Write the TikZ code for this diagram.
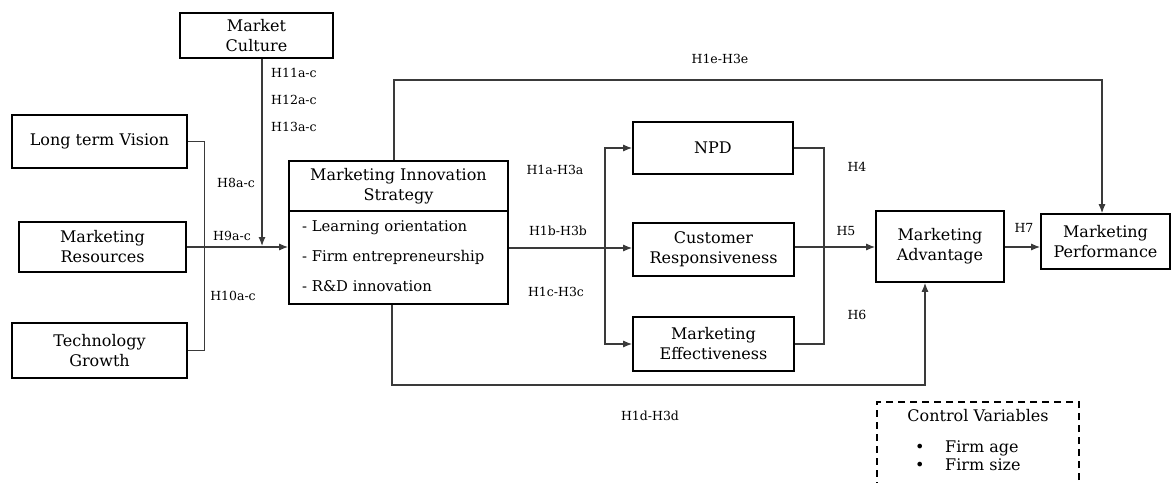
\documentclass[tikz,border=0pt]{standalone}
\usepackage{fontspec}
\setmainfont{DejaVu Serif}
\usetikzlibrary{arrows.meta}
\definecolor{linkgray}{HTML}{3A3A3A}

\begin{document}
\begin{tikzpicture}[x=1pt,y=-1pt,
  every node/.style={inner sep=0pt},
  box/.style={draw,line width=1.6pt,align=center,font=\fontsize{16}{20}\selectfont},
  hyp/.style={font=\fontsize{12.5}{14}\selectfont},
  link/.style={draw=linkgray,line width=1.2pt},
  arr/.style={link,-{Latex[length=9pt,width=7pt]}},
  cvbox/.style={draw,line width=1.8pt,dash pattern=on 7pt off 5pt}]
	\useasboundingbox (0,0) rectangle (1172,482);
	% antecedents
	\node[box,minimum width=153pt,minimum height=45pt] (mc) at (256.5,35.5) {Market\\Culture};
	\node[box,minimum width=175pt,minimum height=53pt] (ltv) at (99.5,141.5) {Long term Vision};
	\node[box,minimum width=167pt,minimum height=50pt] (mr) at (102.5,247) {Marketing\\Resources};
	\node[box,minimum width=175pt,minimum height=55pt] (tg) at (99.5,350.5) {Technology\\Growth};
	% strategy
	\node[box,minimum width=219pt,minimum height=143pt] (mis) at (398.5,232.5) {};
	\coordinate (div) at (0,211);
	\draw[line width=1.6pt] (mis.west |- div) -- (mis.east |- div);
	\node[font=\fontsize{16}{20}\selectfont,align=center] (mistitle) at (398.5,186) {Marketing Innovation\\Strategy};
	\node[font=\fontsize{14.8}{30}\selectfont,align=left,anchor=west] (misitems) at (302,256) {- Learning orientation\\- Firm entrepreneurship\\- R\&D innovation};
	% mediators and outcomes
	\node[box,minimum width=160pt,minimum height=52pt] (npd) at (713,148) {NPD};
	\node[box,minimum width=161pt,minimum height=53pt] (cr) at (713.5,249.5) {Customer\\Responsiveness};
	\node[box,minimum width=161pt,minimum height=54pt] (me) at (713.5,344) {Marketing\\Effectiveness};
	\node[box,minimum width=128pt,minimum height=71pt] (ma) at (940,246.5) {Marketing\\Advantage};
	\node[box,minimum width=129pt,minimum height=55pt] (mp) at (1105.5,241.5) {Marketing\\Performance};
	% control variables
	\node[cvbox,minimum width=202pt,minimum height=92pt] (cv) at (978,448) {};
	\node[font=\fontsize{16}{18}\selectfont] (cvtitle) at (978,416) {Control Variables};
	\node[font=\fontsize{16}{18}\selectfont,align=left,anchor=west] (cvlist) at (915,456) {\makebox[30pt][l]{\textbullet}Firm age\\\makebox[30pt][l]{\textbullet}Firm size};
	% connectors
	\coordinate (join) at (262,246);
	\coordinate (top) at (0,80);
	\coordinate (bot) at (0,385);
	\coordinate (split) at (605,248);
	\coordinate (merge) at (824,247);
	\draw[link] (ltv.east) -- ++(17,0) coordinate (lv) -- (lv |- tg.east) -- (tg.east);
	\draw[arr] (mr.east) -- (mis.west |- mr.east);
	\draw[arr] (mc.south -| join) -- (join);
	\draw[arr] ([xshift=-4.5pt]mis.north) -- ([xshift=-4.5pt]mis.north |- top) -| ([xshift=-3.5pt]mp.north);
	\draw[arr] ([xshift=-6.5pt]mis.south) -- ([xshift=-6.5pt]mis.south |- bot) -| ([xshift=-15pt]ma.south);
	\draw[arr] (mis.east |- split) -- (cr.west |- split);
	\draw[arr] (split) |- (npd.west);
	\draw[arr] (split) |- (me.west);
	\draw[link] (npd.east) -| (merge) |- (me.east);
	\draw[arr] (cr.east |- merge) -- (ma.west |- merge);
	\draw[arr] (ma.east |- merge) -- (mp.west |- merge);
	% hypotheses
	\node[hyp,anchor=west] (h11) at (271,73) {H11a-c};
	\node[hyp,anchor=west] (h12) at (271,100) {H12a-c};
	\node[hyp,anchor=west] (h13) at (271,127) {H13a-c};
	\node[hyp] (h8) at (236,183) {H8a-c};
	\node[hyp] (h9) at (232,236) {H9a-c};
	\node[hyp] (h10) at (233,296) {H10a-c};
	\node[hyp] (h1e) at (720,59) {H1e-H3e};
	\node[hyp] (h1a) at (555,170) {H1a-H3a};
	\node[hyp] (h1b) at (558,231) {H1b-H3b};
	\node[hyp] (h1c) at (556,292) {H1c-H3c};
	\node[hyp] (h1d) at (650,416) {H1d-H3d};
	\node[hyp] (h4) at (857,167) {H4};
	\node[hyp] (h5) at (846,231) {H5};
	\node[hyp] (h6) at (857,315) {H6};
	\node[hyp] (h7) at (1024,228) {H7};
\end{tikzpicture}
\end{document}
